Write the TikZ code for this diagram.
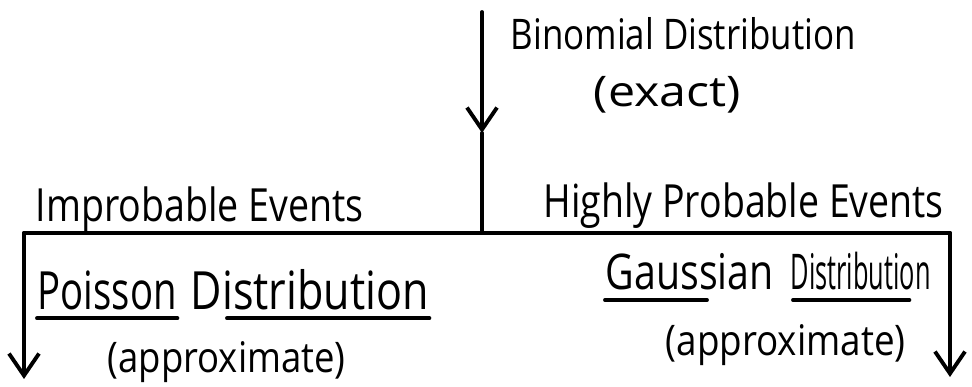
\documentclass[tikz,border=0pt]{standalone}
\usepackage{graphicx}
\usepackage{fontspec}
\setmainfont{Open Sans}
\usetikzlibrary{arrows.meta}

% \hw{width}{size}{text}: text set at a given size and stretched to a given width
\newcommand{\hw}[3]{\resizebox{#1}{\height}{\fontsize{#2}{#2}\selectfont #3}}

\begin{document}
\begin{tikzpicture}[
  pen/.style={line width=1.1pt, line cap=round, line join=round},
  barb/.style={-{Straight Barb[length=2.2mm,width=3mm,line width=1.1pt]}},
  label/.style={inner sep=0pt, anchor=base west},
]
\useasboundingbox (0,0) rectangle (9.72,3.87);

% branching lines
\coordinate (top)   at (4.82,3.75);
\coordinate (mid)   at (4.82,2.54);
\coordinate (fork)  at (4.82,1.54);
\coordinate (left)  at (0.24,1.54);
\coordinate (right) at (9.50,1.54);
\coordinate (lend)  at (0.24,0.08);
\coordinate (rend)  at (9.50,0.10);

\draw[pen,barb] (top) -- (mid);
\draw[pen] (mid) -- (fork);
\draw[pen] (left) -- (right);
\draw[pen,barb] (left) -- (lend);
\draw[pen,barb] (right) -- (rend);

% labels
\node[label] (binom) at (5.10,3.37) {\hw{3.45cm}{12pt}{Binomial Distribution}};
\node[label] (exact) at (5.93,2.80) {\hw{1.47cm}{12pt}{(exact)}};
\node[label] (impr)  at (0.35,1.65) {\hw{3.28cm}{13pt}{Improbable Events}};
\node[label] (high)  at (5.43,1.69) {\hw{4.00cm}{13pt}{Highly Probable Events}};

\node[label] (pois)  at (0.37,0.77) {\hw{1.39cm}{15pt}{Poisson}};
\node[label] (pdist) at (1.90,0.77) {\hw{2.38cm}{15pt}{Distribution}};
\node[label] (appl)  at (1.07,0.14) {\hw{2.38cm}{12pt}{(approximate)}};

\node[label] (gauss) at (6.05,0.97) {\hw{1.68cm}{14pt}{Gaussian}};
\node[label] (gdist) at (7.90,0.97) {\hw{1.40cm}{14pt}{Distribution}};
\node[label] (appr)  at (6.65,0.31) {\hw{2.40cm}{12pt}{(approximate)}};

% underlines
\draw[pen] ([yshift=-2pt]pois.south west)  -- ([yshift=-2pt]pois.south east);
\draw[pen] ([xshift=0.37cm,yshift=-2pt]pdist.south west) -- ([yshift=-2pt]pdist.south east);
\draw[pen] ([yshift=-2.5pt]gauss.south west) -- ([xshift=1.02cm,yshift=-2.5pt]gauss.south west);
\draw[pen] ([xshift=0.03cm,yshift=-2.5pt]gdist.south west) -- ([xshift=-0.22cm,yshift=-2.5pt]gdist.south east);
\end{tikzpicture}
\end{document}
